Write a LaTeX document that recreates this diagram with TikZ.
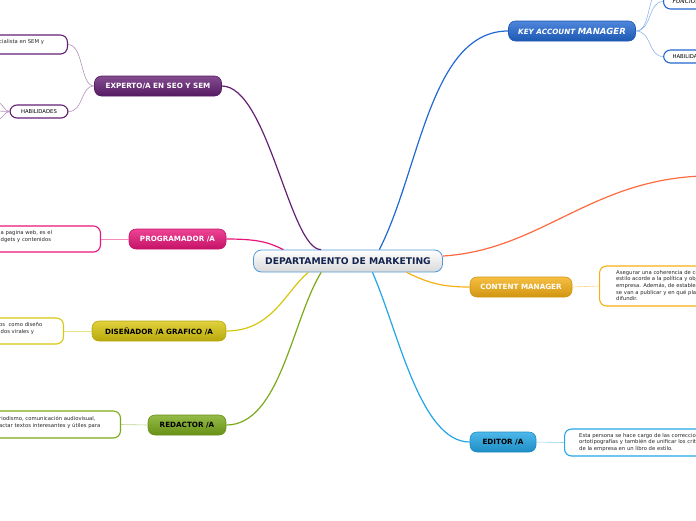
\documentclass[tikz,border=0pt]{standalone}
\usepackage{fontspec}
\setmainfont{DejaVu Sans}
\usepackage{tikz}
\definecolor{morado}{RGB}{100,32,116}
\definecolor{rosa}{RGB}{232,21,122}
\definecolor{amarillo}{RGB}{216,198,14}
\definecolor{verde}{RGB}{122,170,26}
\definecolor{azul}{RGB}{34,104,210}
\definecolor{naranja}{RGB}{255,106,60}
\definecolor{oro}{RGB}{245,176,20}
\definecolor{celeste}{RGB}{34,166,230}
\definecolor{marino}{RGB}{20,36,80}
\definecolor{bordecentro}{RGB}{80,154,216}

\begin{document}
\begin{tikzpicture}[x=1pt,y=-1pt,
  rama/.style={draw=#1!85!black, top color=#1!80, bottom color=#1!85!black, rounded corners=7pt, minimum height=20pt, inner sep=0pt, font=\fontsize{7.2}{8}\selectfont\bfseries, text=white, line width=0.6pt},
  hoja/.style={draw=#1, fill=white, rounded corners=7pt, line width=1.1pt, inner sep=0pt},
  texto/.style={font=\fontsize{5.3}{6.6}\selectfont, align=left, inner sep=0pt, text=black!85},
  tallo/.style={#1, line width=1.2pt},
  brote/.style={#1!50, line width=0.6pt}]
\useasboundingbox (0,0) rectangle (696,520);
\clip (0,0) rectangle (696,520);

\node[draw=bordecentro, top color=white, bottom color=gray!30, rounded corners=8pt, minimum width=189pt, minimum height=22pt, inner sep=0pt, font=\fontsize{9.2}{10}\selectfont\bfseries, text=marino, line width=0.8pt] (centro) at (348,261) {DEPARTAMENTO DE MARKETING};

\node[rama=morado, minimum width=127pt] (experto) at (158,86) {EXPERTO/A EN SEO Y SEM};
\node[rama=azul, minimum width=127pt] (keyacc) at (572,31) {\itshape KEY ACCOUNT {\fontsize{8.5}{9}\selectfont MANAGER}};
\node[rama=rosa, minimum width=97pt] (program) at (177.5,239) {PROGRAMADOR /A};
\node[rama=amarillo, minimum width=134pt, text=black] (disena) at (159,331) {DISEÑADOR /A GRAFICO /A};
\node[rama=verde, minimum width=78pt, text=black] (redact) at (187,425) {REDACTOR /A};
\node[rama=oro, minimum width=102pt] (content) at (521,287) {CONTENT MANAGER};
\node[rama=celeste, minimum width=66pt, text=black] (editor) at (503,442) {EDITOR /A};

\node[hoja=morado, minimum width=110pt, minimum height=19pt, anchor=east] (seotxt) at (68,44.5) {};
\node[texto, anchor=west] (seolin) at (-1,42) {cialista en SEM y};
\node[hoja=morado, minimum width=58pt, minimum height=13pt, font=\fontsize{5.3}{6}\selectfont] (habiliz) at (39,111.5) {HABILIDADES};
\node[hoja=rosa, minimum width=120pt, minimum height=26pt, anchor=east] (progtxt) at (101,239) {};
\node[texto, anchor=west] (proglin) at (-1,236.3) {la pagina web, es el\\idgets y contenidos};
\node[hoja=amarillo, minimum width=100pt, minimum height=26pt, anchor=east] (distxt) at (64,331) {};
\node[texto, anchor=west] (dislin) at (-1,328.3) {os\ \ como diseño\\idos virales y};
\node[hoja=verde, minimum width=140pt, minimum height=27pt, anchor=east] (redtxt) at (121,424.5) {};
\node[texto, anchor=west] (redlin) at (-1,422.3) {riodismo, comunicación audiovisual,\\actar textos interesantes y útiles para};

\node[hoja=oro, minimum width=140pt, minimum height=40pt, anchor=west] (contxt) at (599,286) {};
\node[texto, anchor=west] (conlin) at (616,285.5) {Asegurar una coherencia de contenido\\estilo acorde a la política y objetivos\\empresa. Además, de establecer qué\\se van a publicar y en qué plataformas\\difundir.};
\node[hoja=celeste, minimum width=160pt, minimum height=27pt, anchor=west] (edtxt) at (564,442.5) {};
\node[texto, anchor=west] (edlin) at (579,442.5) {Esta persona se hace cargo de las correcciones\\ortotipografías y también de unificar los criterios\\de la empresa en un libro de estilo.};
\node[hoja=azul, minimum width=60pt, minimum height=15pt, anchor=west, inner xsep=9pt, text width=50pt, align=left, font=\fontsize{6}{7}\selectfont\itshape] (funci) at (663,1.5) {FUNCIONES};
\node[hoja=azul, minimum width=60pt, minimum height=13pt, anchor=west, inner xsep=9pt, text width=50pt, align=left, font=\fontsize{5.3}{6}\selectfont] (habder) at (663,56.5) {HABILIDADES};
\coordinate (naranjafin) at (702,176);
\coordinate (arriba) at (662,-12);
\coordinate (fanuno) at (-4,102);
\coordinate (fandos) at (-4,111);
\coordinate (fantres) at (-4,120);

\draw[tallo=morado] (experto.east) .. controls (268,86) and (290,250) .. (centro.157);
\draw[tallo=rosa] (program.east) .. controls (260,239) and (270,243) .. (centro.170);
\draw[tallo=amarillo] (disena.east) .. controls (272,331) and (285,292) .. (centro.196);
\draw[tallo=verde] (redact.east) .. controls (280,425) and (292,320) .. (centro.203);
\draw[tallo=azul] (centro.20) .. controls (420,170) and (430,31) .. (keyacc.west);
\draw[tallo=naranja] (centro.3) .. controls (540,250) and (590,180) .. (naranjafin);
\draw[tallo=oro] (centro.349) .. controls (430,284) and (445,287) .. (content.west);
\draw[tallo=celeste] (centro.335) .. controls (398,330) and (420,442) .. (editor.west);

\draw[brote=morado] (experto.west) .. controls (80,86) and (84,45) .. (seotxt.east);
\draw[brote=morado] (experto.west) .. controls (80,86) and (84,111.5) .. (habiliz.east);
\draw[brote=morado] (habiliz.west) .. controls (4,111.5) and (3,102) .. (fanuno);
\draw[brote=morado] (habiliz.west) -- (fandos);
\draw[brote=morado] (habiliz.west) .. controls (4,111.5) and (3,120) .. (fantres);
\draw[brote=rosa] (program.west) -- (progtxt.east);
\draw[brote=amarillo] (disena.west) -- (distxt.east);
\draw[brote=verde] (redact.west) -- (redtxt.east);
\draw[brote=oro] (content.east) -- (contxt.west);
\draw[brote=celeste] (editor.east) -- (edtxt.west);
\draw[brote=azul] (keyacc.east) .. controls (652,31) and (648,1.5) .. (funci.west);
\draw[brote=azul] (keyacc.east) .. controls (652,31) and (646,-10) .. (arriba);
\draw[brote=azul] (keyacc.east) .. controls (652,31) and (648,56.5) .. (habder.west);

\end{tikzpicture}
\end{document}
